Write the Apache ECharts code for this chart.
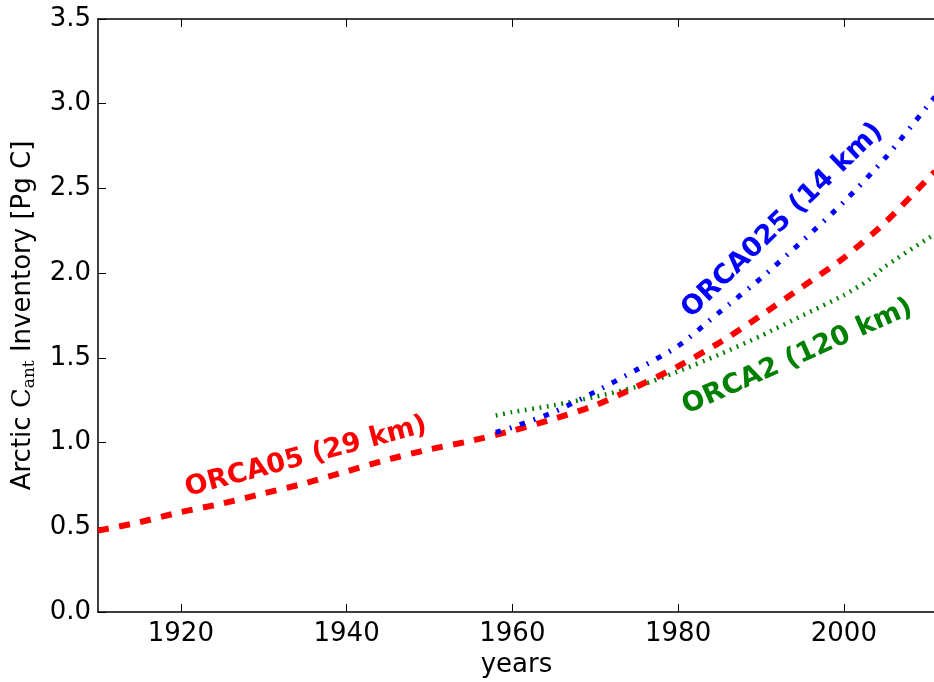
<!DOCTYPE html>
<html><head><meta charset="utf-8">
<script src="https://cdn.jsdelivr.net/npm/echarts@6/dist/echarts.min.js"></script>
<style>html,body{margin:0;padding:0;background:#fff}#c{width:934px;height:682px}</style>
</head><body><div id="c"></div>
<script>
// ---- data ----
const xTicks = [1920, 1940, 1960, 1980, 2000];
const orca05Years  = [1910, 1915, 1920, 1925, 1930, 1935, 1940, 1945, 1950, 1955, 1960, 1965, 1970, 1975, 1980, 1985, 1990, 1995, 2000, 2005, 2010, 2011];
const orca05Values = [0.48, 0.53, 0.59, 0.64, 0.70, 0.76, 0.83, 0.90, 0.96, 1.01, 1.07, 1.14, 1.22, 1.33, 1.45, 1.59, 1.75, 1.92, 2.09, 2.30, 2.55, 2.60];
const orca025Years  = [1958, 1960, 1965, 1970, 1975, 1980, 1985, 1990, 1995, 2000, 2005, 2010, 2011];
const orca025Values = [1.06, 1.09, 1.18, 1.30, 1.43, 1.57, 1.77, 1.97, 2.19, 2.42, 2.68, 2.98, 3.04];
const orca2Years  = [1958, 1960, 1965, 1970, 1975, 1980, 1985, 1990, 1995, 2000, 2003, 2005, 2010, 2011];
const orca2Values = [1.16, 1.18, 1.22, 1.27, 1.33, 1.42, 1.52, 1.63, 1.75, 1.87, 1.96, 2.04, 2.20, 2.23];
const labels = [
  {text: 'ORCA05 (29 km)',  color: '#ff0000', at: [1935.1, 0.915], angle: 15},
  {text: 'ORCA025 (14 km)', color: '#0000ff', at: [1992.6, 2.31],  angle: 44},
  {text: 'ORCA2 (120 km)',  color: '#008000', at: [1994.4, 1.505], angle: 24}
];

const zip = (xs, ys) => xs.map((x, i) => [x, ys[i]]);
const FONT = 'DejaVu Sans';
const chart = echarts.init(document.getElementById('c'), null, {renderer: 'canvas'});

const tickStyle = {show: true, inside: true, length: 8, lineStyle: {color: '#000', width: 1}};
const axisLine = {show: true, lineStyle: {color: '#000', width: 1.5}};

chart.setOption({
  animation: false,
  backgroundColor: '#fff',
  textStyle: {fontFamily: FONT},
  grid: {left: 98, top: 19, width: 837, height: 593, containLabel: false, outerBoundsMode: 'none'},
  xAxis: [{
    type: 'value', min: 1910, max: 2011, position: 'bottom',
    axisLine: axisLine,
    axisTick: Object.assign({customValues: xTicks}, tickStyle),
    axisLabel: {customValues: xTicks, color: '#000', fontSize: 26, fontFamily: FONT, margin: 9,
      formatter: v => String(v)},
    splitLine: {show: false},
    name: 'years', nameLocation: 'middle', nameGap: 40,
    nameTextStyle: {color: '#000', fontSize: 26, fontFamily: FONT}
  }, {
    type: 'value', min: 1910, max: 2011, position: 'top',
    axisLine: axisLine,
    axisTick: Object.assign({customValues: xTicks}, tickStyle),
    axisLabel: {show: false},
    splitLine: {show: false}
  }],
  yAxis: [{
    type: 'value', min: 0, max: 3.5, interval: 0.5, position: 'left',
    axisLine: axisLine,
    axisTick: tickStyle,
    axisLabel: {color: '#000', fontSize: 26, fontFamily: FONT, margin: 7,
      formatter: v => v.toFixed(1)},
    splitLine: {show: false},
    name: 'Arctic {c|C}{s|ant} Inventory [Pg C]',
    nameLocation: 'middle', nameRotate: 90, nameGap: 60,
    nameTextStyle: {color: '#000', fontSize: 26, fontFamily: FONT,
      rich: {
        c: {fontFamily: 'DejaVu Serif', fontSize: 26, color: '#000'},
        s: {fontFamily: 'DejaVu Serif', fontSize: 17, color: '#000', padding: [12, 0, 0, 0]}
      }}
  }],
  series: [{
    name: 'ORCA2', type: 'line', data: zip(orca2Years, orca2Values), symbol: 'none', smooth: 0.25,
    lineStyle: {color: '#008000', width: 4.5, type: [1.8, 5.6], cap: 'butt'}, z: 2
  }, {
    name: 'ORCA05', type: 'line', data: zip(orca05Years, orca05Values), symbol: 'none', smooth: 0.25,
    lineStyle: {color: '#ff0000', width: 6, type: [11, 10.5], cap: 'butt'}, z: 3
  }, {
    name: 'ORCA025', type: 'line', data: zip(orca025Years, orca025Values), symbol: 'none', smooth: 0.25,
    lineStyle: {color: '#0000ff', width: 5, type: [5.5, 9, 1.8, 9], cap: 'butt'}, z: 4
  }]
});

const g = labels.map(l => {
  const p = chart.convertToPixel({xAxisIndex: 0, yAxisIndex: 0}, l.at);
  return {
    type: 'text', x: p[0], y: p[1], rotation: l.angle * Math.PI / 180, z: 10,
    style: {text: l.text, fill: l.color, font: 'bold 27px "DejaVu Sans"',
      align: 'center', verticalAlign: 'middle'}
  };
});
chart.setOption({graphic: g});
</script></body></html>
